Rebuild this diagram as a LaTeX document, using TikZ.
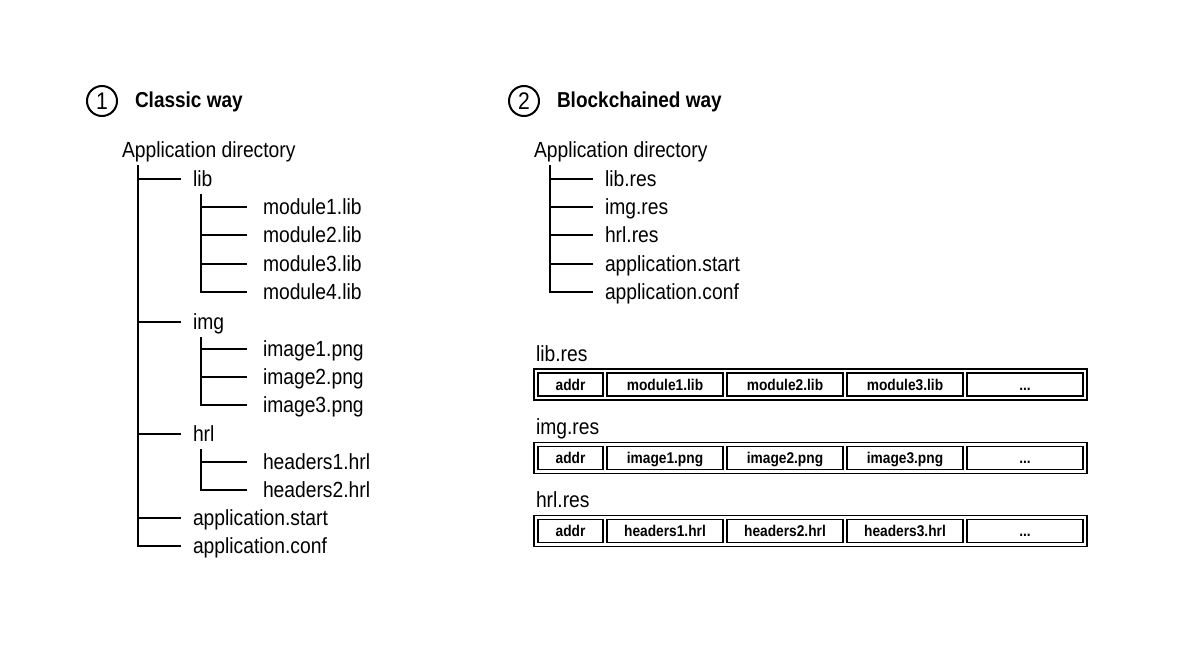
\documentclass[tikz,border=0pt]{standalone}
\usepackage{fontspec}
\setmainfont{Liberation Sans}[FakeStretch=0.88]
\begin{document}
\begin{tikzpicture}[x=1pt,y=-1pt,
  item/.style={anchor=west,inner sep=0pt,outer sep=0pt,font=\fontsize{21.9}{24}\selectfont,text height=15.5pt,text depth=0.5pt},
  head/.style={anchor=west,inner sep=0pt,outer sep=0pt,font=\fontsize{21.6}{24}\selectfont\bfseries,text height=15.5pt,text depth=0.5pt},
  num/.style={circle,draw,line width=2pt,minimum size=30pt,inner sep=0pt,font=\fontsize{24}{26}\selectfont},
  tree/.style={line width=1.6pt},
  rowbox/.style={draw,line width=1.2pt,inner sep=0pt,minimum height=31pt},
  cell/.style={draw,line width=1.7pt,inner sep=0pt,minimum height=23pt,font=\fontsize{15.6}{17}\selectfont\bfseries,text height=11pt,text depth=0pt},
]
\path[use as bounding box] (0,0) rectangle (1200,653);

% ---------- Left: classic way ----------
\node[num] (n1) at (102,101) {1};
\node[head] (h1) at (135,100) {Classic way};
\node[item] (ad1) at (122,150) {Application directory};
\coordinate (T1) at (138,165);
\node[item] (lib) at (193,179) {lib};
\node[item] (img) at (193,322) {img};
\node[item] (hrl) at (193,434) {hrl};
\node[item] (ast) at (193,518) {application.start};
\node[item] (aco) at (193,546) {application.conf};
\foreach \n in {lib,img,hrl,ast,aco}
  \draw[tree] (T1) |- ([xshift=-12pt]\n.west);

\coordinate (L1) at (201,194);
\node[item] (m1) at (263,207) {module1.lib};
\node[item] (m2) at (263,235) {module2.lib};
\node[item] (m3) at (263,264) {module3.lib};
\node[item] (m4) at (263,292) {module4.lib};
\foreach \n in {m1,m2,m3,m4}
  \draw[tree] (L1) |- ([xshift=-16pt]\n.west);

\coordinate (I1) at (201,337);
\node[item] (i1) at (263,349) {image1.png};
\node[item] (i2) at (263,377) {image2.png};
\node[item] (i3) at (263,405) {image3.png};
\foreach \n in {i1,i2,i3}
  \draw[tree] (I1) |- ([xshift=-16pt]\n.west);

\coordinate (H1) at (201,449);
\node[item] (hh1) at (263,462) {headers1.hrl};
\node[item] (hh2) at (263,490) {headers2.hrl};
\foreach \n in {hh1,hh2}
  \draw[tree] (H1) |- ([xshift=-16pt]\n.west);

% ---------- Right: blockchained way ----------
\node[num] (n2) at (524,101) {2};
\node[head] (h2) at (557,100) {Blockchained way};
\node[item] (ad2) at (534,150) {Application directory};
\coordinate (T2) at (550,165);
\node[item] (rl) at (605,179) {lib.res};
\node[item] (ri) at (605,207) {img.res};
\node[item] (rh) at (605,235) {hrl.res};
\node[item] (rs) at (605,264) {application.start};
\node[item] (rc) at (605,292) {application.conf};
\foreach \n in {rl,ri,rh,rs,rc}
  \draw[tree] (T2) |- ([xshift=-12pt]\n.west);

% resource rows
\foreach \lab/\y/\a/\b/\c/\k in {lib.res/384.5/module1.lib/module2.lib/module3.lib/1,
                                 img.res/458/image1.png/image2.png/image3.png/2,
                                 hrl.res/531/headers1.hrl/headers2.hrl/headers3.hrl/3}{
  \node[item] (lab\k) at (536,\y-31) {\lab};
  \node[rowbox,minimum width=553pt] (row\k) at (810.5,\y) {};
  \node[cell,minimum width=65pt] (c\k a) at (570.5,\y) {addr};
  \node[cell,minimum width=116pt] (c\k b) at (665,\y) {\a};
  \node[cell,minimum width=116pt] (c\k c) at (785,\y) {\b};
  \node[cell,minimum width=116pt] (c\k d) at (905,\y) {\c};
  \node[cell,minimum width=116pt] (c\k e) at (1025,\y) {...};
}
\end{tikzpicture}
\end{document}
